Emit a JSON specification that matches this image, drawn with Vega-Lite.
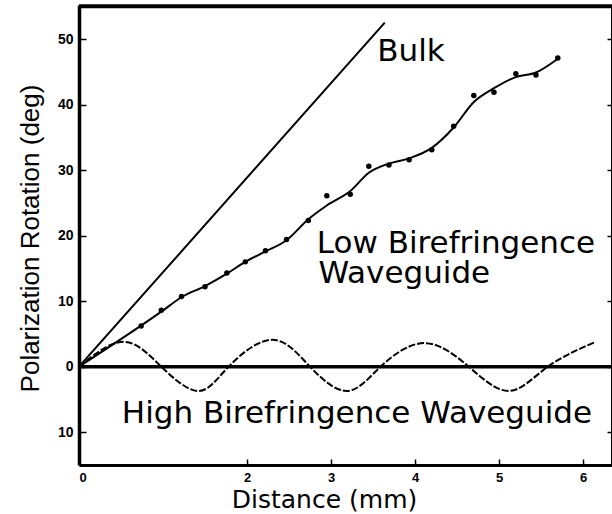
{
  "$schema": "https://vega.github.io/schema/vega-lite/v6.json",
  "width": 533,
  "height": 460,
  "autosize": {"type": "none"},
  "padding": {"left": 79, "top": 5, "right": 0, "bottom": 49},
  "background": "white",
  "config": {
    "view": {"stroke": null},
    "axis": {"grid": false, "domainColor": "black", "tickColor": "black", "labelColor": "black", "titleColor": "black", "domainWidth": 3, "tickWidth": 1.5}
  },
  "datasets": {
    "bulk": [{"d": 0, "rot": 0}, {"d": 3.64, "rot": 52.5}],
    "lowfit": [
      {"d": 0, "rot": 0}, {"d": 0.98, "rot": 8.4}, {"d": 1.22, "rot": 10.6},
      {"d": 1.5, "rot": 12.3}, {"d": 1.76, "rot": 14.2}, {"d": 1.98, "rot": 16.0}, {"d": 2.22, "rot": 17.6},
      {"d": 2.47, "rot": 19.3}, {"d": 2.73, "rot": 22.5}, {"d": 2.95, "rot": 24.6}, {"d": 3.23, "rot": 26.8},
      {"d": 3.45, "rot": 29.6}, {"d": 3.69, "rot": 31.0}, {"d": 3.93, "rot": 31.8}, {"d": 4.2, "rot": 33.4},
      {"d": 4.46, "rot": 36.5}, {"d": 4.7, "rot": 40.4}, {"d": 4.94, "rot": 42.5}, {"d": 5.2, "rot": 44.2},
      {"d": 5.44, "rot": 44.9}, {"d": 5.7, "rot": 47.0}
    ],
    "lowpts": [
      {"d": 0.74, "rot": 6.2}, {"d": 0.98, "rot": 8.6}, {"d": 1.22, "rot": 10.7}, {"d": 1.5, "rot": 12.2},
      {"d": 1.76, "rot": 14.3}, {"d": 1.98, "rot": 16.0}, {"d": 2.22, "rot": 17.7}, {"d": 2.47, "rot": 19.4},
      {"d": 2.73, "rot": 22.3}, {"d": 2.95, "rot": 26.1}, {"d": 3.23, "rot": 26.3}, {"d": 3.45, "rot": 30.6},
      {"d": 3.69, "rot": 30.8}, {"d": 3.93, "rot": 31.6}, {"d": 4.2, "rot": 33.1}, {"d": 4.46, "rot": 36.7},
      {"d": 4.7, "rot": 41.4}, {"d": 4.94, "rot": 41.9}, {"d": 5.2, "rot": 44.7}, {"d": 5.44, "rot": 44.5},
      {"d": 5.7, "rot": 47.1}
    ],
    "high": [
      {"d": 0, "rot": 0}, {"d": 0.53, "rot": 3.8}, {"d": 0.98, "rot": 0}, {"d": 1.42, "rot": -3.7},
      {"d": 1.78, "rot": 0}, {"d": 2.3, "rot": 4.1}, {"d": 2.75, "rot": 0}, {"d": 3.19, "rot": -3.7},
      {"d": 3.59, "rot": 0}, {"d": 4.11, "rot": 3.6}, {"d": 4.64, "rot": 0}, {"d": 5.12, "rot": -3.7},
      {"d": 5.58, "rot": 0}, {"d": 6.15, "rot": 3.8}
    ],
    "labels": [
      {"d": 3.55, "rot": 46.6, "text": "Bulk"},
      {"d": 2.83, "rot": 17.4, "text": "Low Birefringence"},
      {"d": 2.85, "rot": 12.8, "text": "Waveguide"},
      {"d": 0.51, "rot": -8.55, "text": "High Birefringence Waveguide"}
    ],
    "frame": [{"d0": 0, "d1": 6.345, "rot": 55.0}]
  },
  "resolve": {"axis": {"x": "independent", "y": "independent"}},
  "layer": [
    {
      "data": {"name": "bulk"},
      "mark": {"type": "line", "color": "black", "strokeWidth": 2},
      "encoding": {
        "x": {
          "field": "d", "type": "quantitative",
          "scale": {"domain": [0, 6.345], "nice": false, "zero": false},
          "axis": {
            "orient": "bottom", "values": [0, 2, 3, 4, 5, 6], "tickSize": -6, "labelPadding": 12,
            "labelFont": "Liberation Sans", "labelFontSize": 13, "labelFontWeight": "bold",
            "title": "Distance (mm)", "titleFont": "DejaVu Sans", "titleFontSize": 25, "titleFontWeight": "normal",
            "titleX": 245, "titleY": 34, "titleAlign": "center", "titleBaseline": "middle", "titleAnchor": null
          }
        },
        "y": {
          "field": "rot", "type": "quantitative",
          "scale": {"domain": [-15, 55.2], "nice": false, "zero": false},
          "axis": {
            "orient": "left", "values": [-10, 0, 10, 20, 30, 40, 50], "tickSize": -7, "labelPadding": 13,
            "labelExpr": "abs(datum.value)", "domainWidth": 3.5,
            "labelFont": "Liberation Sans", "labelFontSize": 14, "labelFontWeight": "bold",
            "title": "Polarization Rotation (deg)", "titleFont": "Liberation Sans", "titleFontSize": 26, "titleFontWeight": "normal",
            "titleX": -49, "titleY": 233, "titleAngle": -90, "titleAlign": "center", "titleBaseline": "middle"
          }
        }
      }
    },
    {
      "data": {"values": [{"rot": 0}]},
      "mark": {"type": "rule", "color": "black", "strokeWidth": 3.5},
      "encoding": {
        "y": {
          "field": "rot", "type": "quantitative",
          "scale": {"domain": [-15, 55.2], "nice": false, "zero": false},
          "axis": {"orient": "right", "values": [-10, 0, 10, 20, 30, 40, 50], "tickSize": -5, "labels": false, "title": null, "domainWidth": 3}
        }
      }
    },
    {
      "data": {"name": "frame"},
      "mark": {"type": "rule", "color": "black", "strokeWidth": 4},
      "encoding": {
        "x": {"field": "d0", "type": "quantitative", "axis": null},
        "x2": {"field": "d1"},
        "y": {"field": "rot", "type": "quantitative", "axis": null}
      }
    },
    {
      "data": {"name": "lowfit"},
      "mark": {"type": "line", "color": "black", "strokeWidth": 2, "interpolate": "monotone"},
      "encoding": {
        "x": {"field": "d", "type": "quantitative", "axis": null},
        "y": {"field": "rot", "type": "quantitative", "axis": null}
      }
    },
    {
      "data": {"name": "lowpts"},
      "mark": {"type": "point", "filled": true, "color": "black", "size": 30, "opacity": 1},
      "encoding": {
        "x": {"field": "d", "type": "quantitative", "axis": null},
        "y": {"field": "rot", "type": "quantitative", "axis": null}
      }
    },
    {
      "data": {"name": "high"},
      "mark": {"type": "line", "color": "black", "strokeWidth": 2, "interpolate": "natural", "strokeDash": [7, 2]},
      "encoding": {
        "x": {"field": "d", "type": "quantitative", "axis": null},
        "y": {"field": "rot", "type": "quantitative", "axis": null}
      }
    },
    {
      "data": {"name": "labels"},
      "mark": {"type": "text", "align": "left", "baseline": "alphabetic", "font": "DejaVu Sans", "fontSize": 31, "color": "black"},
      "encoding": {
        "x": {"field": "d", "type": "quantitative", "axis": null},
        "y": {"field": "rot", "type": "quantitative", "axis": null},
        "text": {"field": "text"}
      }
    }
  ]
}
